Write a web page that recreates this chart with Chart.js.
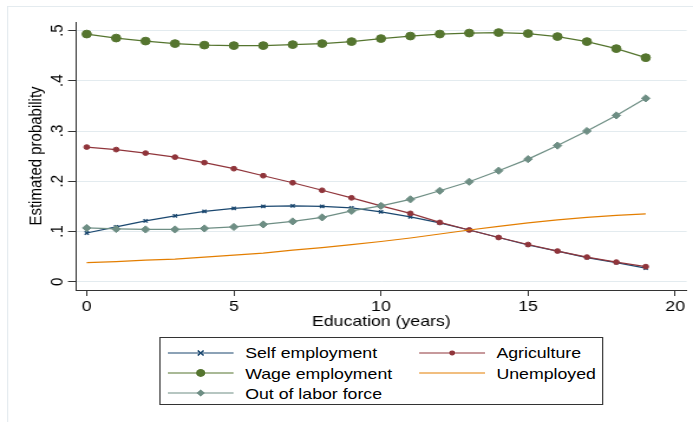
<!DOCTYPE html>
<html>
<head>
<meta charset="utf-8">
<script src="https://cdn.jsdelivr.net/npm/chart.js@4.4.0/dist/chart.umd.min.js"></script>
<style>
  html, body { margin: 0; padding: 0; background: #fff; overflow: hidden; }
  /* the original export is stretched sideways, so draw narrow and stretch */
  #stage { position: absolute; left: 0; top: 0; width: 587px; height: 422px;
           transform: scaleX(1.18058); transform-origin: 0 0;
           font-family: "Liberation Sans", Arial, sans-serif; }
  #frame { position: absolute; left: 5.9px; top: 6px; width: 700px; height: 500px;
           border-left: 1px solid #e4ebef; border-top: 1px solid #e4ebef; }
  #chart { position: absolute; left: 0; top: 0; }
  #legend { position: absolute; left: 134.7px; top: 337px; width: 376.5px; height: 68px;
            border: 1px solid #333; box-sizing: border-box; background: #fff; }
  .item { position: absolute; height: 20px; display: flex; align-items: center;
          font-size: 15px; color: #000; white-space: nowrap; }
  .item svg { display: block; margin-right: 9.5px; }
</style>
</head>
<body>
<div id="stage">
  <div id="frame"></div>
  <canvas id="chart" width="587" height="422"></canvas>
  <div id="legend"></div>
</div>
<script>
const years = [0, 1, 2, 3, 4, 5, 6, 7, 8, 9, 10, 11, 12, 13, 14, 15, 16, 17, 18, 19];
const selfEmployment = [0.097, 0.109, 0.121, 0.131, 0.140, 0.146, 0.150, 0.151, 0.150, 0.147,
                        0.139, 0.129, 0.117, 0.103, 0.088, 0.073, 0.061, 0.048, 0.038, 0.027];
const agriculture = [0.268, 0.263, 0.256, 0.248, 0.237, 0.225, 0.211, 0.197, 0.182, 0.167,
                     0.151, 0.136, 0.118, 0.103, 0.088, 0.074, 0.061, 0.049, 0.039, 0.030];
const wageEmployment = [0.493, 0.485, 0.479, 0.474, 0.471, 0.470, 0.470, 0.472, 0.474, 0.478,
                        0.484, 0.489, 0.493, 0.495, 0.496, 0.494, 0.488, 0.478, 0.464, 0.446];
const unemployed = [0.038, 0.040, 0.043, 0.045, 0.049, 0.053, 0.057, 0.063, 0.068, 0.074,
                    0.080, 0.087, 0.095, 0.103, 0.110, 0.117, 0.123, 0.128, 0.132, 0.135];
const outOfLaborForce = [0.107, 0.105, 0.104, 0.104, 0.106, 0.109, 0.114, 0.120, 0.128, 0.141,
                         0.151, 0.164, 0.181, 0.199, 0.221, 0.244, 0.271, 0.300, 0.331, 0.365];

const xTicks = [0, 5, 10, 15, 20];
const yTicks = [0, 0.1, 0.2, 0.3, 0.4, 0.5];
const yTickLabels = ["0", ".1", ".2", ".3", ".4", ".5"];

const colors = {
    self: "#1a476f",
    agri: "#90353b",
    wage: "#55752f",
    unemp: "#e37e00",
    out: "#6e8e84"
};

const axisColor = "#333";
const gridColor = "#e3ebef";
const font = "'Liberation Sans', Arial, sans-serif";

function points(values) {
    return values.map((v, i) => ({ x: years[i], y: v }));
}

const series = [
    { label: "Self employment", data: selfEmployment, color: colors.self, style: "crossRot", radius: 2.4, bw: 1.4, order: 5 },
    { label: "Agriculture", data: agriculture, color: colors.agri, style: "circle", radius: 2.4, bw: 1, order: 4 },
    { label: "Wage employment", data: wageEmployment, color: colors.wage, style: "circle", radius: 3.9, bw: 1, order: 3 },
    { label: "Unemployed", data: unemployed, color: colors.unemp, style: "circle", radius: 0, bw: 1, order: 2 },
    { label: "Out of labor force", data: outOfLaborForce, color: colors.out, style: "rectRot", radius: 3.6, bw: 1, order: 1 }
];

new Chart(document.getElementById("chart").getContext("2d"), {
    type: "line",
    data: {
        datasets: series.map(s => ({
            label: s.label,
            data: points(s.data),
            borderColor: s.color,
            backgroundColor: s.color,
            borderWidth: 1.2,
            pointStyle: s.style,
            pointRadius: s.radius,
            pointBorderWidth: s.bw,
            pointBorderColor: s.color,
            pointBackgroundColor: s.color,
            tension: 0,
            order: s.order
        }))
    },
    options: {
        responsive: false,
        animation: false,
        devicePixelRatio: 1,
        layout: { padding: { left: 0, right: 4.3, top: 22, bottom: 87 } },
        scales: {
            x: {
                type: "linear",
                min: -0.363,
                max: 20.39,
                afterBuildTicks: scale => { scale.ticks = xTicks.map(v => ({ value: v })); },
                afterFit: scale => { scale.height = 45; },
                grid: { drawOnChartArea: false, tickColor: axisColor, tickLength: 6, lineWidth: 1 },
                border: { color: axisColor, width: 1 },
                ticks: { color: "#000", font: { family: font, size: 15 }, padding: 2, maxRotation: 0,
                         callback: v => String(v) },
                title: { display: true, text: "Education (years)", color: "#000",
                         font: { family: font, size: 15 }, padding: { top: 0, bottom: 4 } }
            },
            y: {
                min: -0.0165,
                max: 0.517,
                afterBuildTicks: scale => { scale.ticks = yTicks.map(v => ({ value: v })); },
                afterFit: scale => { scale.width = 64.4; },
                grid: { color: gridColor, tickColor: axisColor, tickLength: 6.8, lineWidth: 1 },
                border: { color: axisColor, width: 1 },
                ticks: { color: "#000", font: { family: font, size: 15 }, padding: 2.2,
                         minRotation: 90, maxRotation: 90, crossAlign: "center",
                         callback: (v, i) => yTickLabels[i] },
                title: { display: true, text: "Estimated probability", color: "#000",
                         font: { family: font, size: 15 }, padding: { top: 21.5, bottom: 0 } }
            }
        },
        plugins: {
            legend: { display: false },
            tooltip: { enabled: false }
        }
    }
});

// legend box: two columns like the Stata legend
function sample(s) {
    let mark = "";
    if (s.style === "crossRot") {
        mark = `<path d="M25.5 7.5 L30.5 12.5 M30.5 7.5 L25.5 12.5" stroke="${s.color}" stroke-width="1.4"/>`;
    } else if (s.style === "rectRot") {
        mark = `<path d="M28 6.4 L31.6 10 L28 13.6 L24.4 10 Z" fill="${s.color}"/>`;
    } else if (s.radius > 0) {
        mark = `<circle cx="28" cy="10" r="${s.radius}" fill="${s.color}"/>`;
    }
    return `<svg width="56" height="20"><line x1="0" y1="10" x2="56" y2="10" stroke="${s.color}" stroke-width="1.2"/>${mark}</svg>`;
}

const legendPos = [
    { left: 6.5, top: 4.7 },    // Self employment
    { left: 219.3, top: 4.7 },  // Agriculture
    { left: 6.5, top: 25.3 },   // Wage employment
    { left: 219.3, top: 25.3 }, // Unemployed
    { left: 6.5, top: 45.3 }    // Out of labor force
];
const legend = document.getElementById("legend");
series.forEach((s, i) => {
    const el = document.createElement("div");
    el.className = "item";
    el.style.left = legendPos[i].left + "px";
    el.style.top = legendPos[i].top + "px";
    el.innerHTML = sample(s) + "<span>" + s.label + "</span>";
    legend.appendChild(el);
});
</script>
</body>
</html>
